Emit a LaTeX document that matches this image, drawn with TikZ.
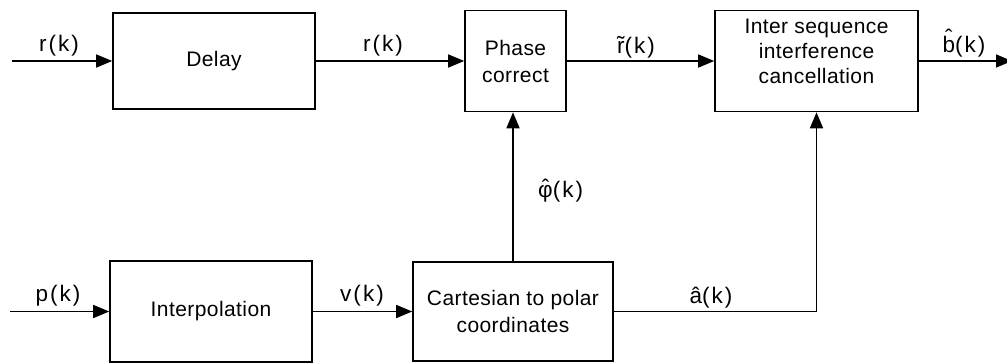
\documentclass[tikz,border=0pt]{standalone}
\usepackage{fontspec}
\setmainfont{Liberation Sans}[LetterSpace=2]
\usetikzlibrary{arrows.meta}
% put a text accent #2 centred over #1, lifted by #3
\newcommand\accover[3]{\leavevmode\setbox0\hbox{#1}%
  \rlap{\hbox to \wd0{\hss\raisebox{#3}{#2}\hss}}\box0}
\begin{document}
\begin{tikzpicture}[x=1pt,y=-1pt,
  block/.style={draw, line width=1.6pt, inner sep=0pt, align=center,
    font=\fontsize{21}{27}\selectfont},
  txt/.style={inner sep=0pt, align=center, font=\fontsize{21}{25}\selectfont},
  sig/.style={line width=1.6pt, -{Triangle[length=16pt,width=13pt]}},
  lbl/.style={inner sep=0pt, anchor=base,
    font=\fontsize{22.5}{26}\selectfont\addfontfeature{LetterSpace=9}}]
\useasboundingbox (0,0) rectangle (1007,364);
\clip (0,0) rectangle (1007,364);

% processing blocks
\node[block, minimum width=202pt, minimum height=96pt]  (delay)  at (214,61)    {Delay};
\node[block, minimum width=101pt, minimum height=101pt] (phase)  at (515.5,61)  {Phase\\correct};
\node[block, minimum width=203pt, minimum height=101pt] (isi)    at (816.5,61)  {};
\node[txt] (isitext) at (816.5,51) {Inter sequence\\interference\\cancellation};
\node[block, minimum width=202pt, minimum height=101pt] (interp) at (211,311.5) {Interpolation};
\node[block, minimum width=200pt, minimum height=99pt]  (cart)   at (513,311.5) {Cartesian to polar\\coordinates};

% free ends of the input and output lines
\coordinate (rin)  at (12,61);
\coordinate (pin)  at (10,311.5);
\coordinate (bout) at (1012,61);

% signal flow
\draw[sig] (rin) -- (delay.west);
\draw[sig] (delay.east) -- (phase.west);
\draw[sig] (phase.east) -- (isi.west);
\draw[sig] (isi.east) -- (bout);
\draw[sig] (pin) -- (interp.west);
\draw[sig] (interp.east) -- (cart.west);
\draw[sig] (cart.north) -- (cart.north |- phase.south);
\draw[sig] (cart.east) -- (isi.south |- cart.east) -- (isi.south);

% signal names
\node[lbl] (lr1) at (59,51)  {r(k)};
\node[lbl] (lr2) at (383,51) {r(k)};
\node[lbl] (lrt) at (636,53) {\accover{r}{˜}{1pt}(k)};
\node[lbl] (lb)  at (964,52) {\accover{b}{ˆ}{6pt}(k)};
\node[lbl, anchor=base west] (lphi) at (538,197) {\accover{φ}{ˆ}{2pt}(k)};
\node[lbl] (lp)  at (58,301)  {p(k)};
\node[lbl] (lv)  at (362,301) {v(k)};
\node[lbl] (la)  at (711,303) {\accover{a}{ˆ}{0pt}(k)};
\end{tikzpicture}
\end{document}
